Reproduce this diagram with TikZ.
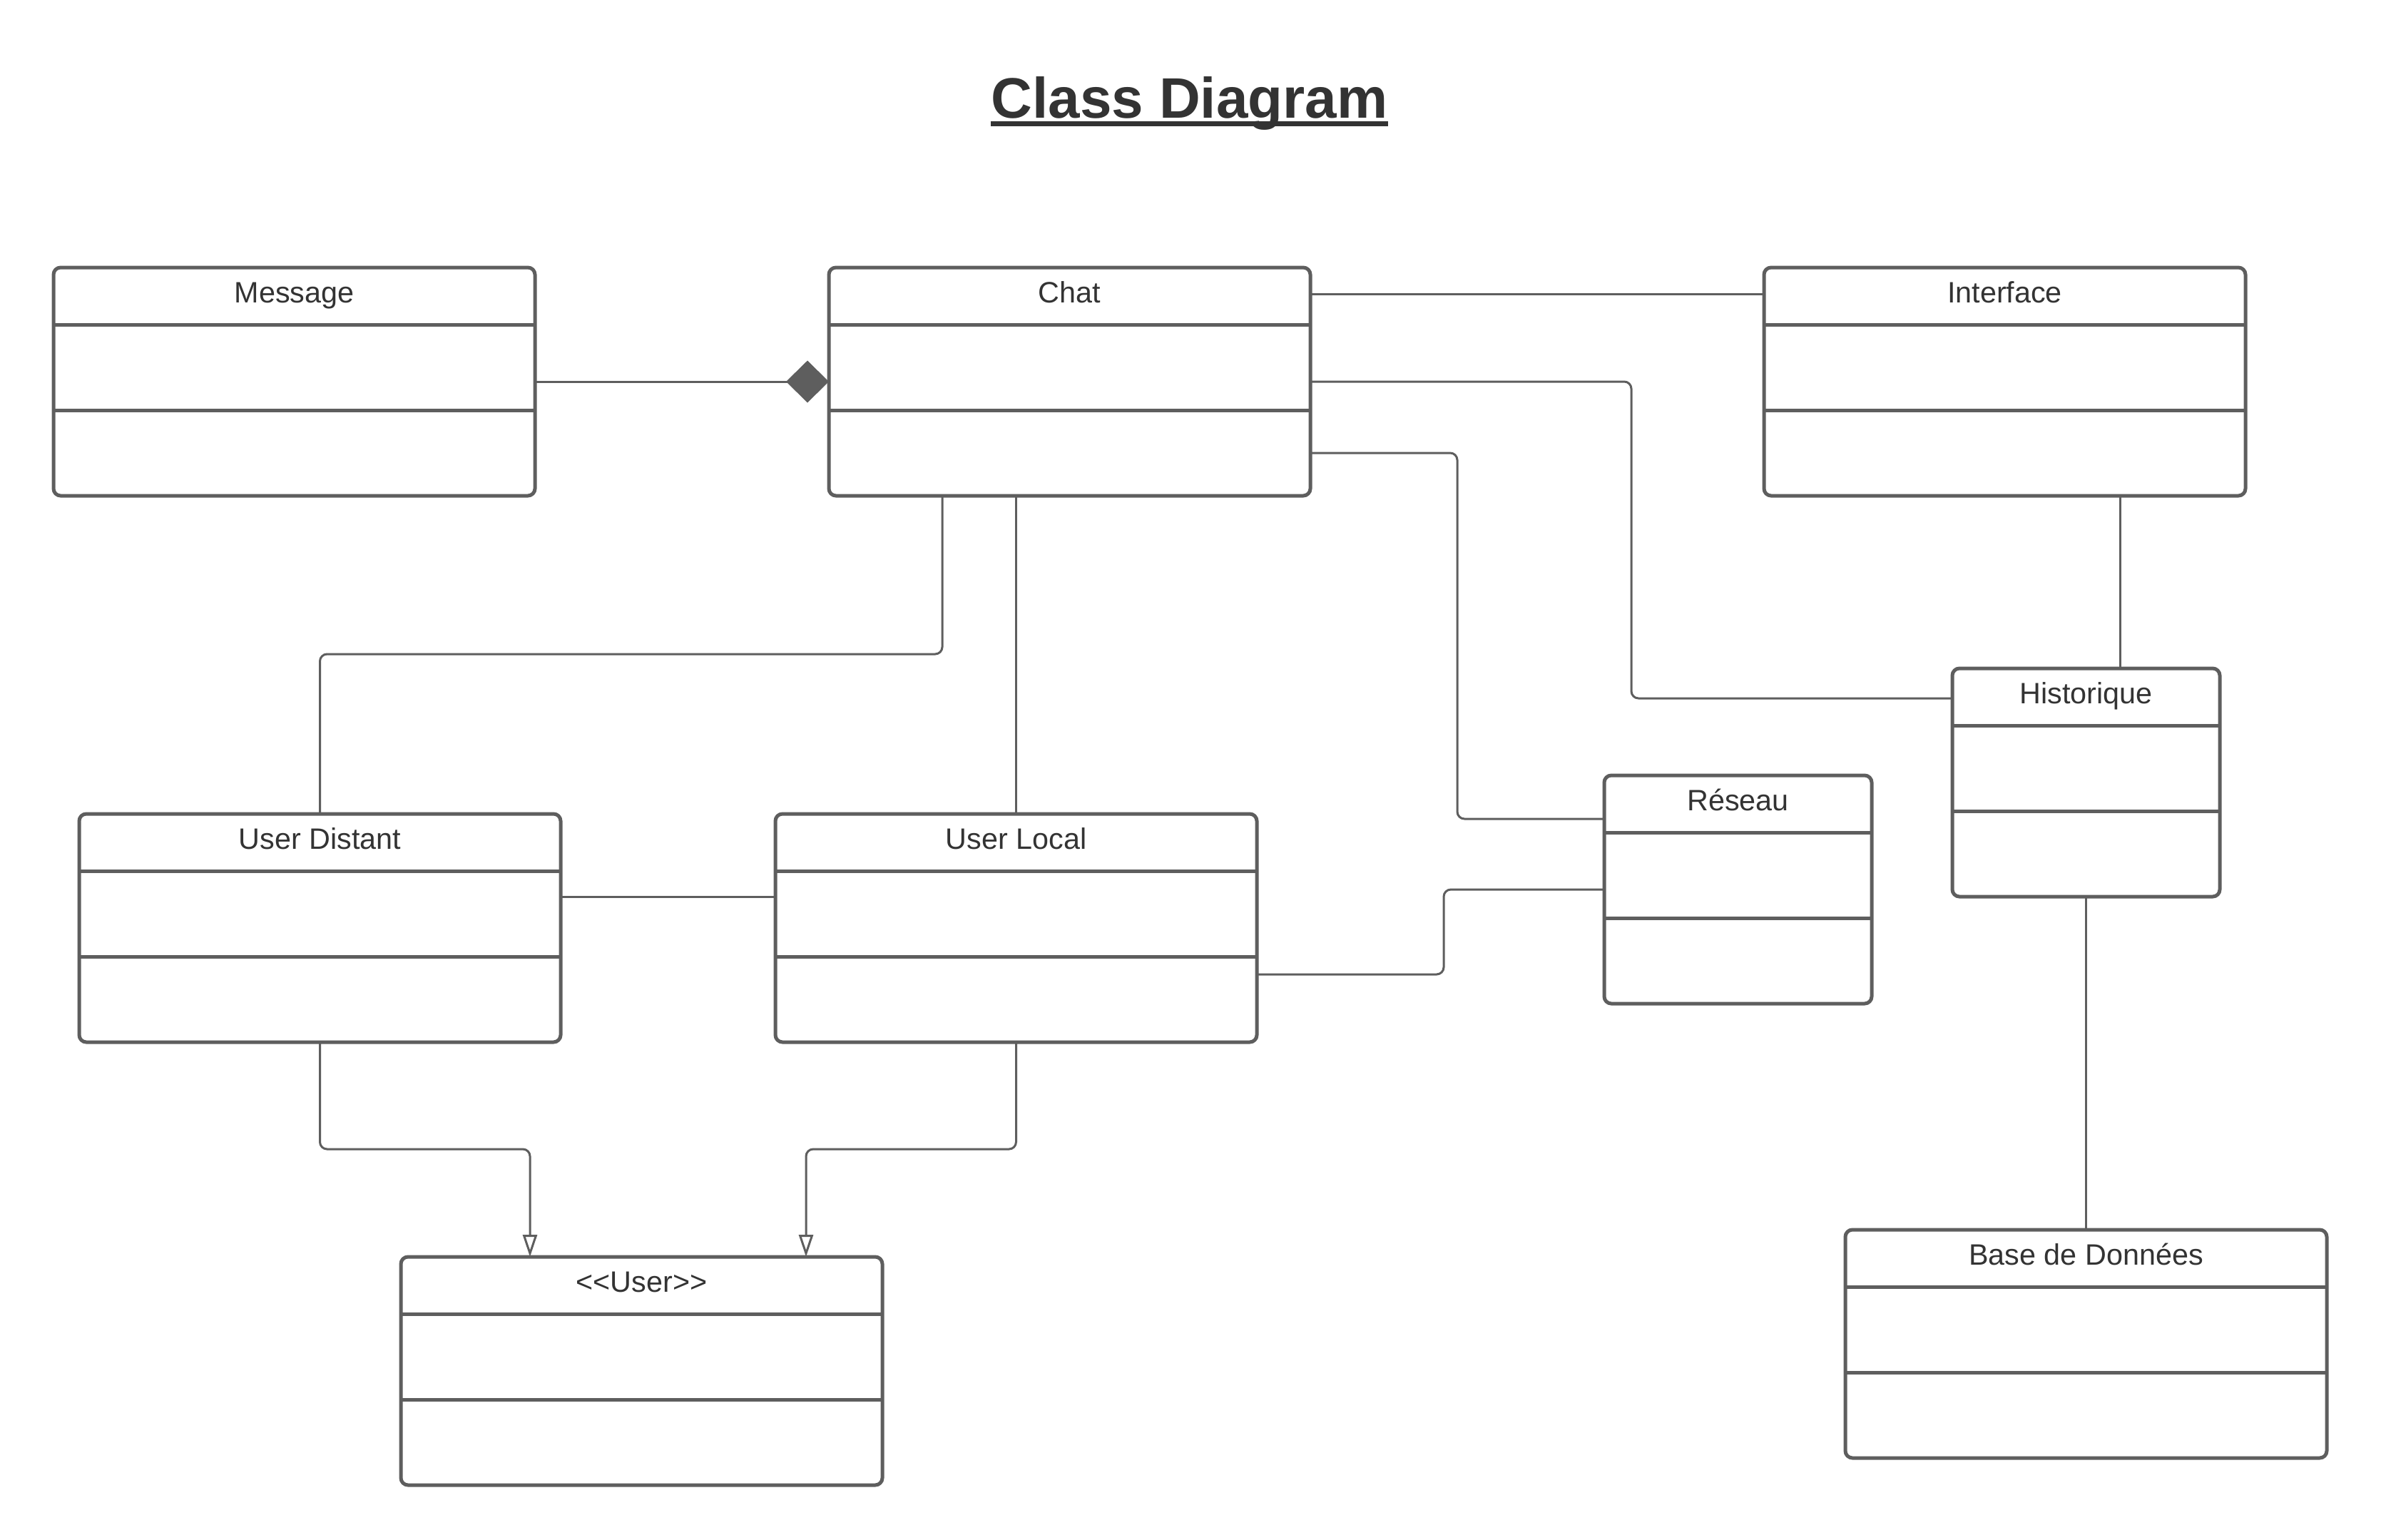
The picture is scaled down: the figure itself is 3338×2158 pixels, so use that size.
\documentclass[tikz,border=0pt]{standalone}
\usepackage{fontspec}
\setmainfont{Liberation Sans}
\usepackage{tikz}
\usetikzlibrary{arrows.meta,positioning,calc}
\usepackage{xcolor}
\definecolor{linegray}{RGB}{94,94,94}
\definecolor{txtgray}{RGB}{51,51,51}

\begin{document}
\begin{tikzpicture}[x=0.3pt,y=-0.3pt]
  % Estilos
  \tikzset{
    classbox/.style={draw=linegray,line width=1.5pt,rounded corners=3pt,outer sep=0pt,minimum height=96pt},
    widebox/.style={classbox,minimum width=202.5pt},
    smallbox/.style={classbox,minimum width=112.5pt},
    divider/.style={draw=linegray,line width=1.5pt},
    lab/.style={anchor=base,inner sep=0pt,text=txtgray,font=\fontsize{12.4}{15}\selectfont},
    bigtitle/.style={anchor=base,inner sep=0pt,text=txtgray,font=\fontsize{24}{28}\selectfont\bfseries},
    conn/.style={draw=linegray,line width=0.9pt,rounded corners=3pt}
  }
  \useasboundingbox (0,0) rectangle (3338,2158);

  %================= TÍTULO =================
  \node[bigtitle] (title) at (1667.5,165.7) {Class Diagram};
  \draw[txtgray,line width=2.1pt] ($(title.base west)+(0,8)$) -- ($(title.base east)+(0,8)$);

  %================= CLASES =================
  \node[widebox]  (msg)    at ( 412.5, 535) {};
  \node[widebox]  (chat)   at (1499.5, 535) {};
  \node[widebox]  (iface)  at (2810.5, 535) {};
  \node[smallbox] (hist)   at (2924.5,1097) {};
  \node[smallbox] (reseau) at (2436.5,1247) {};
  \node[widebox]  (udist)  at ( 448.5,1301) {};
  \node[widebox]  (ulocal) at (1424.5,1301) {};
  \node[widebox]  (user)   at ( 899.5,1922) {};
  \node[widebox]  (bdd)    at (2924.5,1884) {};

  % Separadores de atributos y metodos
  \foreach \n in {msg,chat,iface,hist,reseau,udist,ulocal,user,bdd} {
    \draw[divider] ($(\n.north west)+(0,80)$) -- ($(\n.north east)+(0,80)$);
    \draw[divider] ($(\n.north west)+(0,200)$) -- ($(\n.north east)+(0,200)$);
  }

  % Nombres de las clases
  \node[lab] (msg-t)    at ($(msg.north)+(0,49)$)    {Message};
  \node[lab] (chat-t)   at ($(chat.north)+(0,49)$)   {Chat};
  \node[lab] (iface-t)  at ($(iface.north)+(0,49)$)  {Interface};
  \node[lab] (hist-t)   at ($(hist.north)+(0,49)$)   {Historique};
  \node[lab] (reseau-t) at ($(reseau.north)+(0,49)$) {Réseau};
  \node[lab] (udist-t)  at ($(udist.north)+(0,49)$)  {User Distant};
  \node[lab] (ulocal-t) at ($(ulocal.north)+(0,49)$) {User Local};
  \node[lab] (user-t)   at ($(user.north)+(0,49)$)   {{<}{<}User{>}{>}};
  \node[lab] (bdd-t)    at ($(bdd.north)+(0,49)$)    {Base de Données};

  %================= RELACIONES =================
  % Composicion Message -> Chat
  \draw[conn,-{Diamond[length=18pt,width=17.7pt,fill=linegray]}] (msg.east) -- (chat.west);

  % Asociaciones desde Chat
  \draw[conn] ($(chat.north east)+(0,37)$) -- ($(iface.north west)+(0,37)$);
  \draw[conn] (chat.east) -| ($(hist.north west)+(-450,42)$) -- ($(hist.north west)+(0,42)$);
  \draw[conn] ($(chat.south east)+(0,-60)$) -| ($(reseau.north west)+(-206,61)$) -- ($(reseau.north west)+(0,61)$);
  \draw[conn] ($(chat.south west)+(159,0)$) |- ($(udist.north)+(0,-224)$) -- (udist.north);
  \draw[conn] (chat.south -| ulocal.north) -- (ulocal.north);

  % Interface, Historique y Base de Donnees
  \draw[conn] ($(hist.north west)+(235,0)$) coordinate (h-in) -- (h-in |- iface.south);
  \draw[conn] (hist.south) -- (bdd.north);

  % Usuarios y red
  \draw[conn] ($(udist.north east)+(0,116)$) -- ($(ulocal.north west)+(0,116)$);
  \draw[conn] ($(ulocal.south east)+(0,-95)$) -| ($(reseau.north west)+(-225,160)$) -- ($(reseau.north west)+(0,160)$);

  % Herencia hacia <<User>>
  \draw[conn,-{Triangle[open,length=9.3pt,width=6pt]}] (udist.south) |- ($(user.north west)+(181,-151)$) -- ($(user.north west)+(181,0)$);
  \draw[conn,-{Triangle[open,length=9.3pt,width=6pt]}] (ulocal.south) |- ($(user.north west)+(568,-151)$) -- ($(user.north west)+(568,0)$);

\end{tikzpicture}
\end{document}
